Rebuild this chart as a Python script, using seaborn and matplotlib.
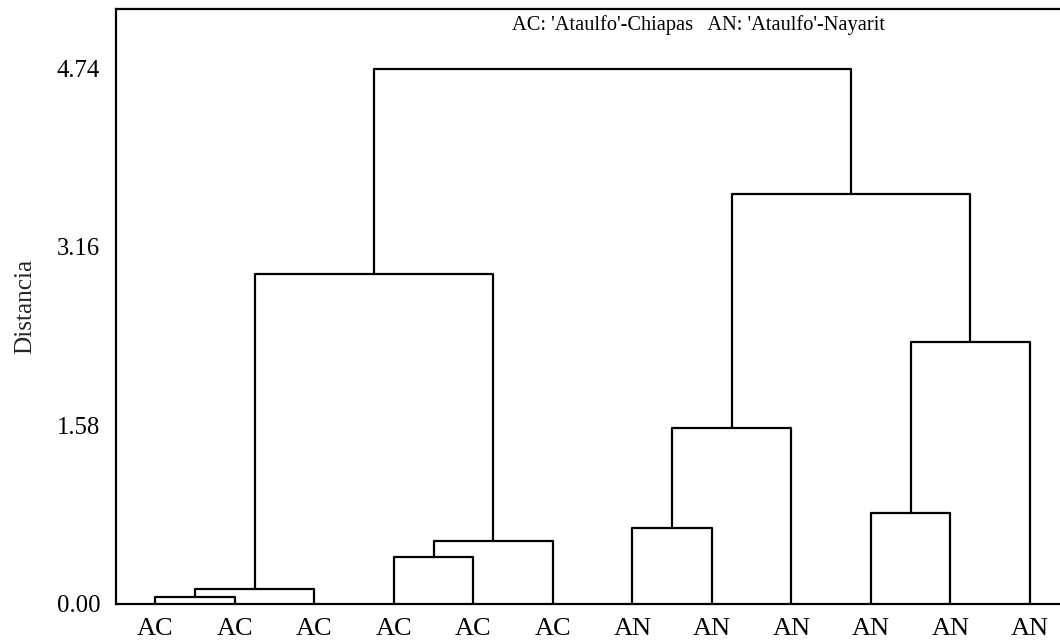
import matplotlib
matplotlib.use("Agg")
import matplotlib.pyplot as plt
import seaborn as sns
import pandas as pd
import numpy as np

# ---- data ----
leaf_labels = ["AC", "AC", "AC", "AC", "AC", "AC", "AN", "AN", "AN", "AN", "AN", "AN"]
# linkage: (child a, child b, height); new clusters numbered from 12 upward
merge_a = [0, 12, 3, 14, 13, 6, 17, 9, 19, 18, 16]
merge_b = [1, 2, 4, 5, 15, 7, 8, 10, 11, 20, 21]
merge_h = [0.062, 0.128, 0.411, 0.555, 2.923, 0.673, 1.559, 0.803, 2.315, 3.629, 4.74]
y_ticks = [0.00, 1.58, 3.16, 4.74]
y_tick_labels = ["0.00", "1.58", "3.16", "4.74"]
ylabel = "Distancia"
legend_text = "AC: 'Ataulfo'-Chiapas   AN: 'Ataulfo'-Nayarit"

sns.set_theme(style="white")
plt.rcParams["font.family"] = ["Liberation Serif", "DejaVu Serif"]

n = len(leaf_labels)
node_x = {i: float(i) for i in range(n)}
node_y = {i: 0.0 for i in range(n)}
rows = []
for k, (a, b, h) in enumerate(zip(merge_a, merge_b, merge_h)):
    nid = n + k
    xa, ya, xb, yb = node_x[a], node_y[a], node_x[b], node_y[b]
    for (px, py) in [(xa, ya), (xa, h), (xb, h), (xb, yb)]:
        rows.append({"x": px, "y": py, "link": k})
    node_x[nid] = (xa + xb) / 2
    node_y[nid] = h
df = pd.DataFrame(rows)

W, H = 1060, 644
fig = plt.figure(figsize=(W / 100, H / 100), dpi=100)
left = 115.5 / W
bottom = (H - 603.7) / H
top = (H - 8.5) / H
ax = fig.add_axes([left, bottom, 1.0 - left, top - bottom])

sns.lineplot(data=df, x="x", y="y", units="link", estimator=None, sort=False,
             color="black", linewidth=1.6, ax=ax, legend=False)

ax.set_xlim(-0.5, 11.377)
ax.set_ylim(0, 5.272)
ax.set_xticks(range(n))
ax.set_xticklabels(leaf_labels, fontsize=19)
ax.set_yticks(y_ticks)
ax.set_yticklabels(y_tick_labels, fontsize=17.8)
ax.set_xlabel("")
ax.set_ylabel(ylabel, fontsize=18.2, labelpad=15)
ax.tick_params(axis="both", direction="out", length=6, width=1.5, color="black",
               labelcolor="black")
ax.tick_params(axis="y", pad=5)
ax.tick_params(axis="x", pad=4.5)
for s in ["left", "bottom", "top"]:
    ax.spines[s].set_visible(True)
    ax.spines[s].set_color("black")
    ax.spines[s].set_linewidth(1.6)
ax.spines["right"].set_visible(False)

fig.text(512 / W, 1 - 25 / H, legend_text, fontsize=14.7, ha="left", va="center",
         color="black")

fig.savefig("out.png", dpi=100)
